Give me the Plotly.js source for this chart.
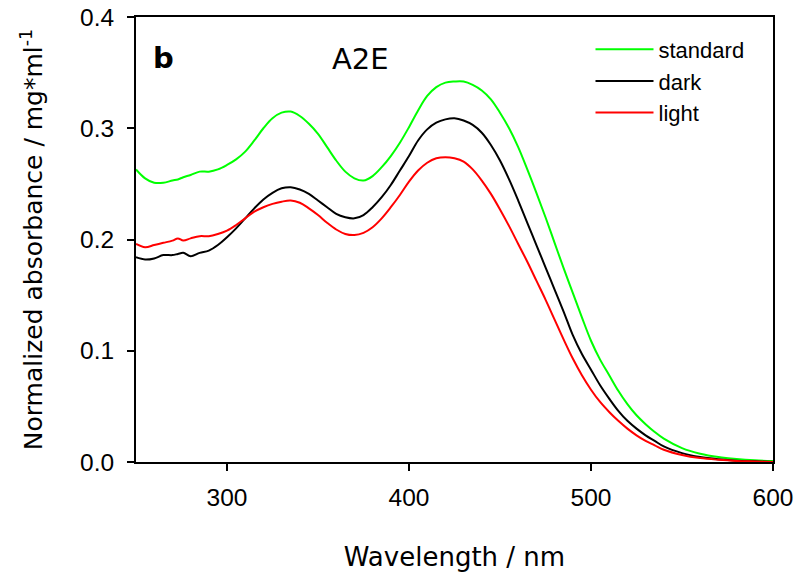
<!DOCTYPE html>
<html>
<head>
<meta charset="utf-8">
<script src="https://cdn.plot.ly/plotly-3.0.1.min.js"></script>
<style>html,body{margin:0;padding:0;background:#fff;}#chart{width:800px;height:581px;}</style>
</head>
<body>
<div id="chart"></div>
<script>
var wavelength = [250,255,260,265,270,273,276,280,285,290,295,300,305,310,315,320,325,330,335,340,345,350,355,360,365,370,375,380,385,390,395,400,405,410,415,420,425,430,435,440,445,450,455,460,465,470,475,480,485,490,495,500,505,510,515,520,525,530,535,540,550,560,570,580,590,600];

var standard = [0.263,0.255,0.251,0.251,0.253,0.254,0.256,0.258,0.261,0.261,0.263,0.267,0.272,0.279,0.289,0.300,0.309,0.314,0.315,0.311,0.304,0.295,0.283,0.271,0.261,0.255,0.253,0.257,0.265,0.275,0.287,0.301,0.316,0.329,0.337,0.341,0.342,0.342,0.339,0.334,0.326,0.314,0.300,0.283,0.263,0.242,0.220,0.197,0.174,0.152,0.130,0.109,0.092,0.078,0.064,0.052,0.042,0.034,0.027,0.021,0.0125,0.0075,0.0045,0.0027,0.0015,0.0008];

var dark = [0.184,0.182,0.183,0.186,0.186,0.187,0.188,0.185,0.188,0.190,0.195,0.202,0.210,0.219,0.228,0.236,0.242,0.246,0.247,0.245,0.241,0.235,0.229,0.223,0.220,0.219,0.222,0.229,0.238,0.249,0.262,0.275,0.289,0.299,0.305,0.308,0.309,0.307,0.303,0.296,0.285,0.271,0.254,0.235,0.215,0.195,0.175,0.155,0.135,0.114,0.097,0.083,0.069,0.057,0.046,0.037,0.030,0.024,0.019,0.014,0.008,0.0045,0.0025,0.0012,0.0006,0.0];

var light = [0.196,0.193,0.195,0.197,0.199,0.201,0.199,0.201,0.203,0.203,0.205,0.208,0.213,0.219,0.225,0.229,0.232,0.234,0.235,0.233,0.228,0.222,0.215,0.209,0.205,0.204,0.206,0.211,0.219,0.229,0.240,0.252,0.262,0.269,0.273,0.274,0.273,0.270,0.263,0.253,0.241,0.227,0.212,0.196,0.180,0.163,0.146,0.128,0.110,0.093,0.078,0.065,0.054,0.045,0.037,0.030,0.024,0.019,0.015,0.011,0.0063,0.0035,0.002,0.001,0.0005,0.0];

var seriesNames = ['standard','dark','light'];
var seriesColors = ['#00ff00','#000000','#ff0000'];
var xTickVals = [300,400,500,600];
var yTickVals = [0.0,0.1,0.2,0.3,0.4];

var allSeries = [standard, dark, light];
var traces = allSeries.map(function(vals, i){
  return {
    x: wavelength, y: vals, type: 'scatter', mode: 'lines',
    name: seriesNames[i], legendgroup: seriesNames[i],
    line: {color: seriesColors[i], width: 2, shape: 'spline', smoothing: 1}
  };
});

var layout = {
  width: 800, height: 581,
  margin: {l: 136, r: 27, t: 17, b: 119},
  paper_bgcolor: '#ffffff', plot_bgcolor: '#ffffff',
  font: {family: 'Liberation Sans, Arial, sans-serif', color: '#000'},
  showlegend: true,
  legend: {x: 0.7135, y: 0.974, xanchor: 'left', yanchor: 'top', bgcolor: 'rgba(0,0,0,0)',
           font: {size: 22, family: 'Liberation Sans, Arial, sans-serif'}, tracegroupgap: 0, itemwidth: 58},
  xaxis: {
    range: [250, 600], tickvals: xTickVals, ticks: 'outside', ticklen: 7, tickwidth: 2,
    tickcolor: '#000', showline: true, linecolor: '#000', linewidth: 2, mirror: true,
    showgrid: false, zeroline: false, tickfont: {size: 24.5}, ticklabelstandoff: 6,
    title: {text: 'Wavelength / nm', font: {size: 26, family: 'DejaVu Sans, sans-serif'}, standoff: 37}
  },
  yaxis: {
    range: [0, 0.4], tickvals: yTickVals, tickformat: '.1f', ticks: 'outside', ticklen: 7, tickwidth: 2,
    tickcolor: '#000', showline: true, linecolor: '#000', linewidth: 2, mirror: true,
    showgrid: false, zeroline: false, tickfont: {size: 24.5}, ticklabelstandoff: 8,
    title: {text: 'Normalized absorbance / mg*ml<sup>-1</sup>', font: {size: 25, family: 'DejaVu Sans, sans-serif'}, standoff: 30}
  },
  annotations: [
    {text: '<b>b</b>', x: 0.024, y: 0.95, xref: 'paper', yref: 'paper', showarrow: false,
     font: {size: 29, family: 'DejaVu Sans, sans-serif', color: '#000'}},
    {text: 'A2E', x: 0.353, y: 0.948, xref: 'paper', yref: 'paper', showarrow: false,
     font: {size: 29, family: 'DejaVu Sans, sans-serif', color: '#000'}}
  ]
};

Plotly.newPlot('chart', traces, layout, {staticPlot: true, displayModeBar: false});
</script>
</body>
</html>
